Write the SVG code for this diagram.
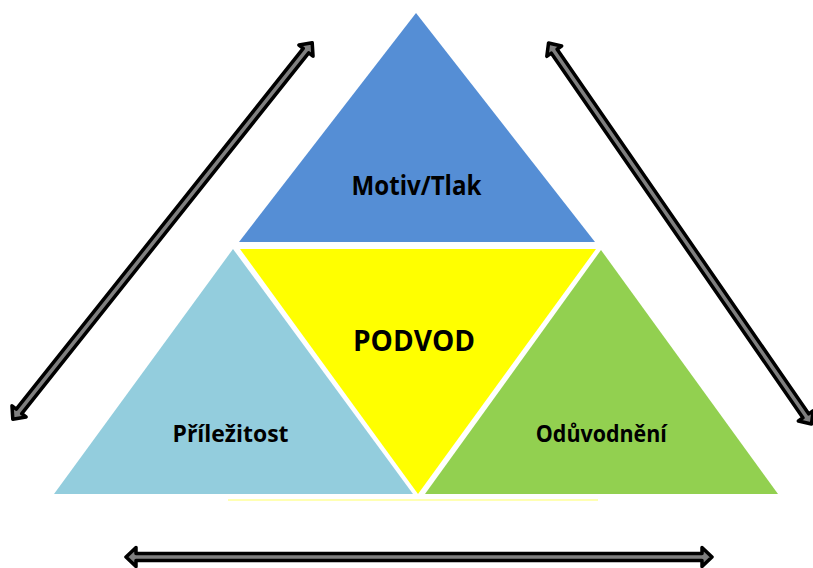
<svg xmlns="http://www.w3.org/2000/svg" width="813" height="568" viewBox="0 0 813 568">
<style>
.lbl{font-family:"Open Sans","Noto Sans","Liberation Sans",sans-serif;font-weight:bold;fill:#000;text-anchor:middle}
.arrow{fill:#7f7f7f;stroke:#000;stroke-width:3.5;stroke-linejoin:round}
</style>
<rect width="813" height="568" fill="#fff"/>
<g id="motiv">
<polygon points="416,13 239,242 595,242" fill="#558ED5"/>
<text class="lbl" x="416.5" y="195" font-size="26" textLength="130" lengthAdjust="spacingAndGlyphs">Motiv/Tlak</text>
</g>
<g id="podvod">
<polygon points="240,249 596,249 418,494" fill="#FFFF00"/>
<text class="lbl" x="414" y="351" font-size="28" textLength="122" lengthAdjust="spacingAndGlyphs">PODVOD</text>
</g>
<g id="prilezitost">
<polygon points="233,249 54,494 413,494" fill="#93CDDD"/>
<text class="lbl" x="230.5" y="442" font-size="24" textLength="116" lengthAdjust="spacingAndGlyphs">Příležitost</text>
</g>
<g id="oduvodneni">
<polygon points="601,250 425,494 778,494" fill="#92D050"/>
<text class="lbl" x="601.3" y="442" font-size="24" textLength="131" lengthAdjust="spacingAndGlyphs">Odůvodnění</text>
</g>
<line x1="228" y1="500" x2="598" y2="500" stroke="#FFFF99" stroke-width="1.5"/>
<g id="connectors">
<path class="arrow" transform="translate(162.5,231) rotate(-51.5)" d="M-240.5,0 L-230.5,-9 L-230.5,-3.5 L230.5,-3.5 L230.5,-9 L240.5,0 L230.5,9 L230.5,3.5 L-230.5,3.5 L-230.5,9 Z"/>
<path class="arrow" transform="translate(680,233.5) rotate(55.4)" d="M-231.5,0 L-221.5,-9 L-221.5,-3.5 L221.5,-3.5 L221.5,-9 L231.5,0 L221.5,9 L221.5,3.5 L-221.5,3.5 L-221.5,9 Z"/>
<path class="arrow" transform="translate(419,557)" d="M-293,0 L-283,-9.5 L-283,-3.5 L283,-3.5 L283,-9.5 L293,0 L283,9.5 L283,3.5 L-283,3.5 L-283,9.5 Z"/>
</g>
</svg>
